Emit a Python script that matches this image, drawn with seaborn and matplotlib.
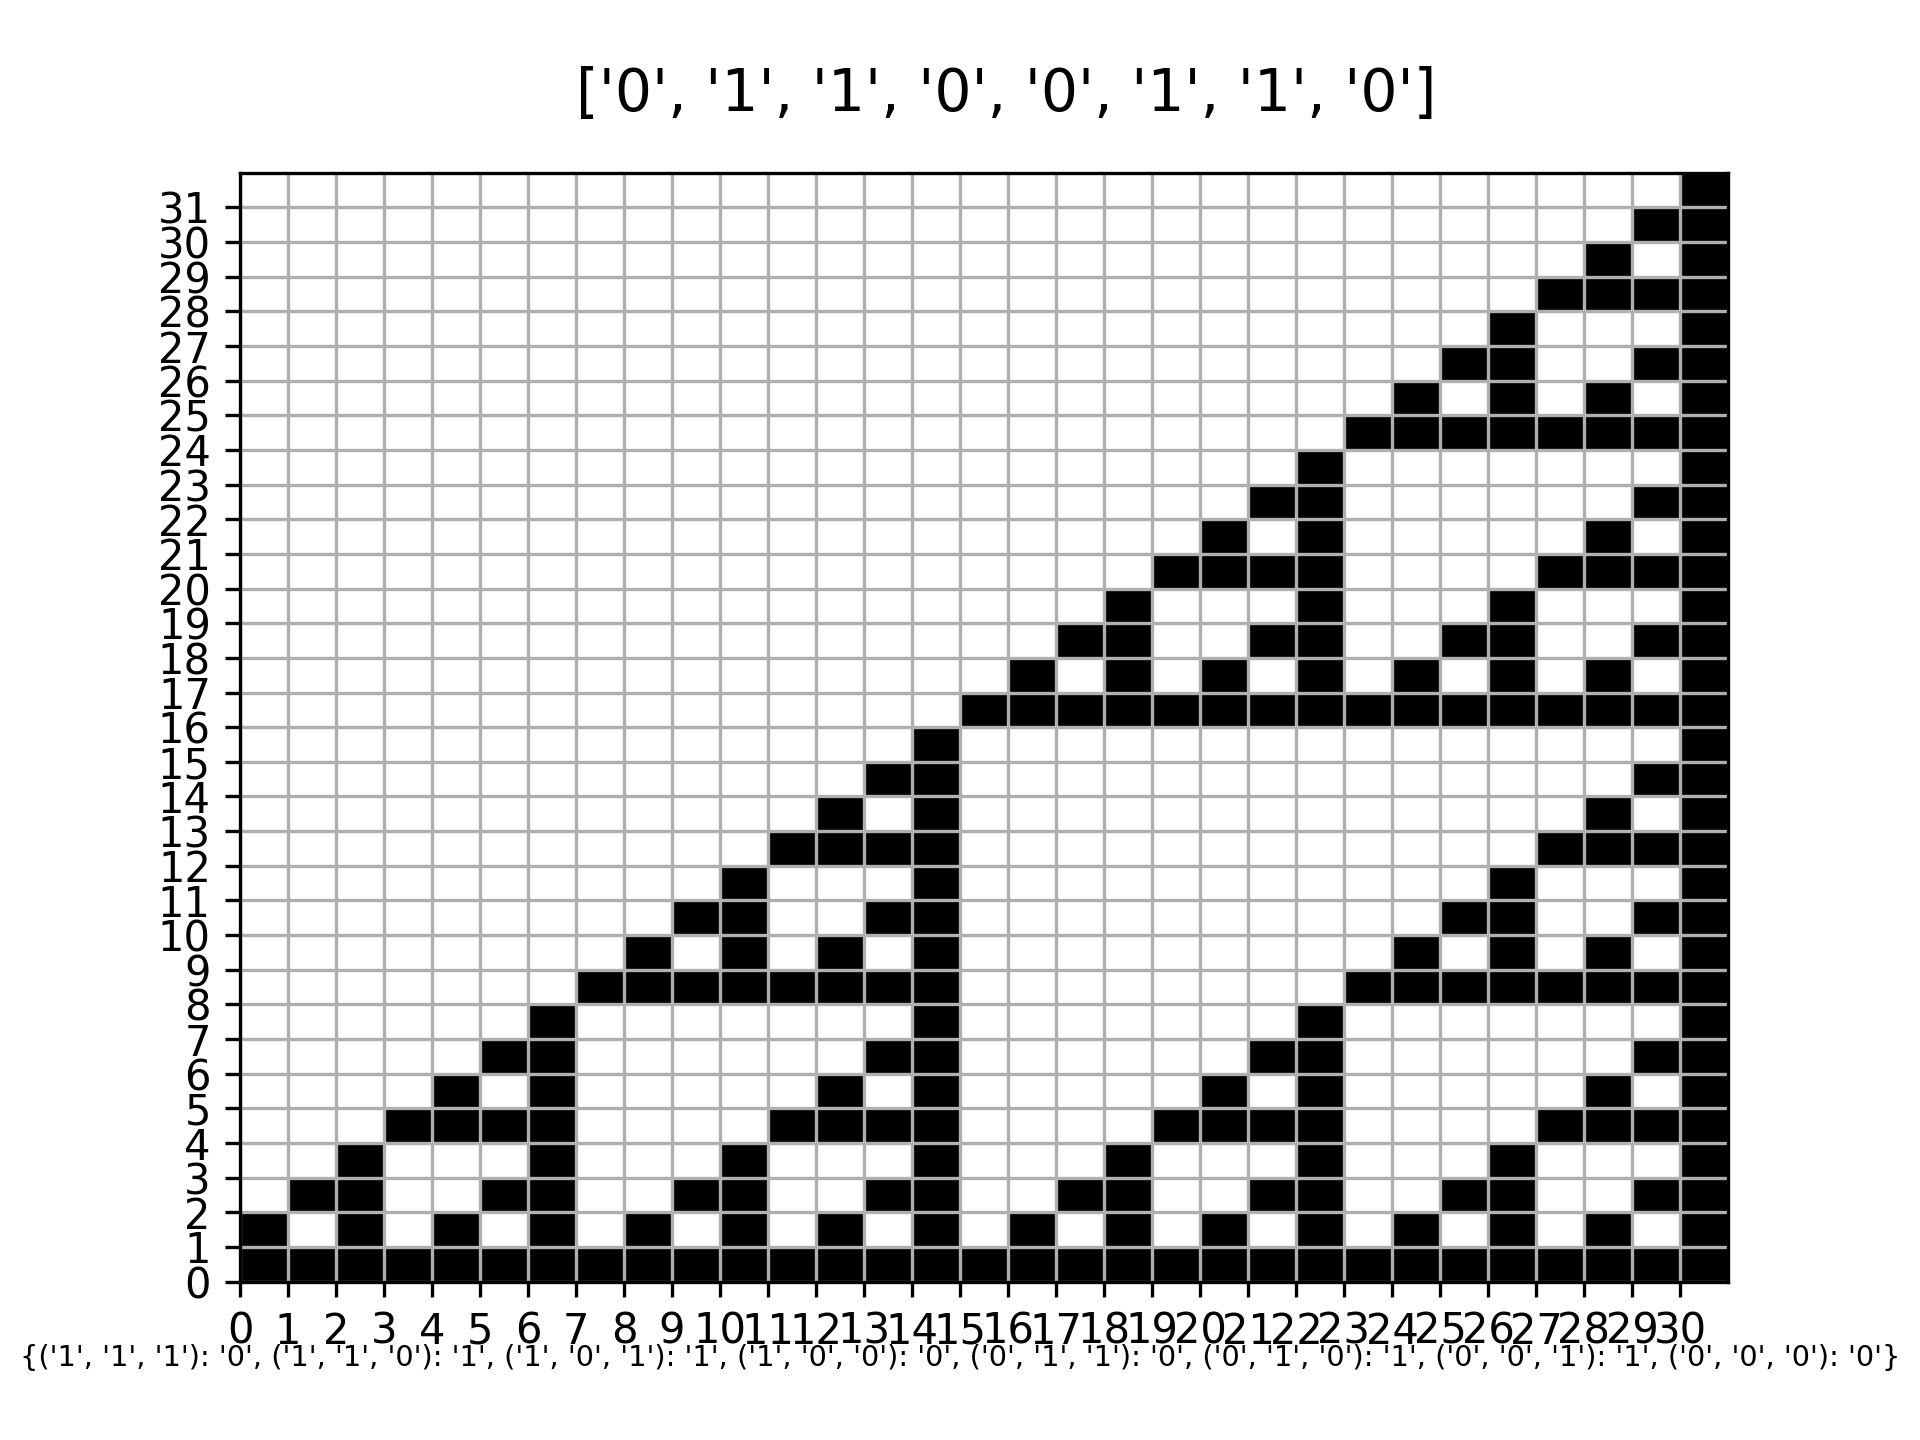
import matplotlib
matplotlib.use("Agg")
import matplotlib.pyplot as plt
from matplotlib.colors import ListedColormap
import numpy as np
import pandas as pd
import seaborn as sns

# Rule outputs (title) and the neighbourhood table (x label)
rule_bits = ['0', '1', '1', '0', '0', '1', '1', '0']
rule_table = {('1', '1', '1'): '0', ('1', '1', '0'): '1', ('1', '0', '1'): '1', ('1', '0', '0'): '0',
	('0', '1', '1'): '0', ('0', '1', '0'): '1', ('0', '0', '1'): '1', ('0', '0', '0'): '0'}

# Cell states, top row (y = 31) first
rows = [
	"0000000000000000000000000000001",
	"0000000000000000000000000000011",
	"0000000000000000000000000000101",
	"0000000000000000000000000001111",
	"0000000000000000000000000010001",
	"0000000000000000000000000110011",
	"0000000000000000000000001010101",
	"0000000000000000000000011111111",
	"0000000000000000000000100000001",
	"0000000000000000000001100000011",
	"0000000000000000000010100000101",
	"0000000000000000000111100001111",
	"0000000000000000001000100010001",
	"0000000000000000011001100110011",
	"0000000000000000101010101010101",
	"0000000000000001111111111111111",
	"0000000000000010000000000000001",
	"0000000000000110000000000000011",
	"0000000000001010000000000000101",
	"0000000000011110000000000001111",
	"0000000000100010000000000010001",
	"0000000001100110000000000110011",
	"0000000010101010000000001010101",
	"0000000111111110000000011111111",
	"0000001000000010000000100000001",
	"0000011000000110000001100000011",
	"0000101000001010000010100000101",
	"0001111000011110000111100001111",
	"0010001000100010001000100010001",
	"0110011001100110011001100110011",
	"1010101010101010101010101010101",
	"1111111111111111111111111111111",
]

cells = pd.DataFrame([[int(c) for c in r] for r in rows[::-1]])
n_rows, n_cols = cells.shape

fig = plt.figure(figsize = (6.4, 4.8), dpi = 300)
ax = fig.add_subplot(111)
sns.heatmap(cells, ax = ax, cmap = ListedColormap(["white", "black"]), vmin = 0, vmax = 1,
	cbar = False, xticklabels = False, yticklabels = False)
ax.set_ylim(0, n_rows)
ax.set_xlim(0, n_cols)
for s in ax.spines.values():
	s.set_visible(True)
	s.set_linewidth(0.8)
ax.set_xticks(range(n_cols))
ax.set_xticklabels([str(i) for i in range(n_cols)], rotation = 0, fontsize = 10)
ax.set_yticks(range(n_rows))
ax.set_yticklabels([str(i) for i in range(n_rows)], rotation = 0, fontsize = 10)
ax.tick_params(length = 3.5, width = 0.8)
ax.grid(True, color = "#b0b0b0", linewidth = 0.8)
ax.set_title(str(rule_bits), fontsize = 14, pad = 14.8, x = 0.5148)
ax.set_xlabel(str(rule_table), fontsize = 6.95, labelpad = -2, x = 0.4839)
fig.subplots_adjust(left = 0.125, right = 0.9, bottom = 0.11, top = 0.88)

fig.savefig("out.png", dpi = 300)
